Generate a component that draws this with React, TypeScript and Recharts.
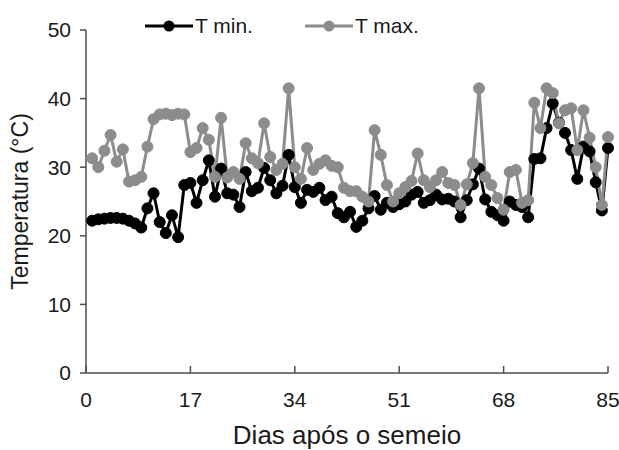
import React from 'react';
import { LineChart, Line, XAxis, YAxis } from 'recharts';

const days = [
  1, 2, 3, 4, 5, 6, 7, 8, 9, 10, 11, 12, 13, 14, 15, 16, 17, 18, 19, 20,
  21, 22, 23, 24, 25, 26, 27, 28, 29, 30, 31, 32, 33, 34, 35, 36, 37, 38, 39, 40,
  41, 42, 43, 44, 45, 46, 47, 48, 49, 50, 51, 52, 53, 54, 55, 56, 57, 58, 59, 60,
  61, 62, 63, 64, 65, 66, 67, 68, 69, 70, 71, 72, 73, 74, 75, 76, 77, 78, 79, 80,
  81, 82, 83, 84, 85,
];

const tMin = [
  22.2, 22.4, 22.5, 22.6, 22.6, 22.5, 22.2, 21.8, 21.2, 24,
  26.2, 22, 20.4, 23, 19.8, 27.4, 27.7, 24.8, 28.1, 31,
  25.7, 29.8, 26.2, 26, 24.2, 29.3, 26.5, 27, 29.9, 28.1,
  26.2, 27.3, 31.8, 27.1, 24.8, 26.7, 26.4, 27, 25.2, 25.7,
  23.3, 22.7, 23.5, 21.3, 22.2, 24, 25.8, 23.8, 24.8, 24.2,
  24.6, 25, 26, 26.4, 24.8, 25.2, 26, 25.3, 25.4, 25,
  22.7, 25.2, 27.5, 29.8, 25.3, 23.5, 23, 22.2, 25, 24.5,
  24.2, 22.7, 31.2, 31.3, 35.7, 39.3, 36.5, 35, 32.5, 28.3,
  33, 32.3, 27.8, 23.7, 32.8,
];

const tMax = [
  31.3, 30, 32.4, 34.7, 30.8, 32.6, 27.9, 28.1, 28.6, 33,
  37, 37.7, 37.8, 37.6, 37.8, 37.7, 32.2, 32.8, 35.7, 34,
  28.6, 37.2, 28.5, 29.3, 28.3, 33.5, 31.3, 30.6, 36.4, 31.5,
  29.6, 30.5, 41.5, 30, 28.3, 32.8, 29.6, 30.5, 31, 30.2,
  30, 27, 26.5, 26.5, 25.7, 25, 35.4, 31.8, 27.4, 25,
  26.2, 27.1, 28, 32, 28.1, 27.1, 28.1, 29.3, 27.7, 27.4,
  24.5, 27.5, 30.6, 41.5, 28.6, 27.4, 25.5, 23.8, 29.3, 29.6,
  24.8, 25.2, 39.4, 35.7, 41.5, 40.8, 36.4, 38.3, 38.6, 32.5,
  38.3, 34.3, 30, 24.5, 34.4,
];

const xTicks = [0, 17, 34, 51, 68, 85];
const yTicks = [0, 10, 20, 30, 40, 50];

const data = days.map((d, i) => ({ day: d, tmin: tMin[i], tmax: tMax[i] }));

const FONT = 'Liberation Sans, Arial, sans-serif';
const AXIS = '#4d4d4d';
const TEXT = '#1a1a1a';
const MIN_COLOR = '#000000';
const MAX_COLOR = '#8c8c8c';

const XTick = (props: any) => {
  const { x, y, payload } = props;
  return (
    <g>
      <line x1={x} x2={x} y1={y - 7} y2={y} stroke={AXIS} strokeWidth={1.5} />
      <text x={x} y={y + 34} textAnchor="middle" fontSize={21} fill={TEXT} fontFamily={FONT}>
        {payload.value}
      </text>
    </g>
  );
};

// legend drawn on top of the chart so it does not push the plot area down
const legendItems = [
  { label: 'T min.', color: MIN_COLOR, left: 145 },
  { label: 'T max.', color: MAX_COLOR, left: 305 },
];

const ChartLegend = () => (
  <div style={{ position: 'absolute', top: 15, left: 0, width: 619, fontFamily: FONT, fontSize: 21, color: TEXT }}>
    {legendItems.map((it) => (
      <div
        key={it.label}
        style={{ position: 'absolute', left: it.left, display: 'flex', alignItems: 'center', lineHeight: '22px' }}
      >
        <svg width={48} height={14}>
          <line x1={0} x2={48} y1={7} y2={7} stroke={it.color} strokeWidth={3} />
          <circle cx={24} cy={7} r={5.5} fill={it.color} />
        </svg>
        <span style={{ marginLeft: 2 }}>{it.label}</span>
      </div>
    ))}
  </div>
);

export default function App() {
  return (
    <div style={{ position: 'absolute', left: 0, top: 0, width: 619, height: 450, background: '#fff' }}>
      <LineChart width={619} height={450} data={data} margin={{ top: 30, right: 11, left: 0, bottom: 0 }}>
        <XAxis
          dataKey="day"
          type="number"
          domain={[0, 85]}
          ticks={xTicks}
          interval={0}
          height={77}
          tickLine={false}
          tickSize={0}
          tickMargin={0}
          axisLine={{ stroke: AXIS, strokeWidth: 1.5 }}
          tick={<XTick />}
          label={{
            content: (p: any) => {
              const vb = p.viewBox;
              return (
                <text
                  x={vb.x + vb.width / 2}
                  y={vb.y + 71}
                  textAnchor="middle"
                  fontSize={26}
                  fill={TEXT}
                  fontFamily={FONT}
                >
                  Dias após o semeio
                </text>
              );
            },
          }}
        />
        <YAxis
          type="number"
          domain={[0, 50]}
          ticks={yTicks}
          interval={0}
          width={86}
          tickSize={6}
          tickMargin={9}
          tickLine={{ stroke: AXIS, strokeWidth: 1.5 }}
          axisLine={{ stroke: AXIS, strokeWidth: 1.5 }}
          tick={{ fontSize: 21, fill: TEXT, fontFamily: FONT }}
          label={{
            content: (p: any) => {
              const vb = p.viewBox;
              const cx = 22;
              const cy = vb.y + vb.height / 2;
              return (
                <text
                  x={cx}
                  y={cy}
                  transform={`rotate(-90 ${cx} ${cy})`}
                  textAnchor="middle"
                  dominantBaseline="middle"
                  fontSize={23}
                  fill={TEXT}
                  fontFamily={FONT}
                >
                  Temperatura (°C)
                </text>
              );
            },
          }}
        />
        <Line
          dataKey="tmin"
          name="T min."
          stroke={MIN_COLOR}
          strokeWidth={3}
          dot={{ r: 5.5, fill: MIN_COLOR, stroke: MIN_COLOR, strokeWidth: 1 }}
          isAnimationActive={false}
        />
        <Line
          dataKey="tmax"
          name="T max."
          stroke={MAX_COLOR}
          strokeWidth={3}
          dot={{ r: 5.5, fill: MAX_COLOR, stroke: MAX_COLOR, strokeWidth: 1 }}
          isAnimationActive={false}
        />
      </LineChart>
      <ChartLegend />
    </div>
  );
}
